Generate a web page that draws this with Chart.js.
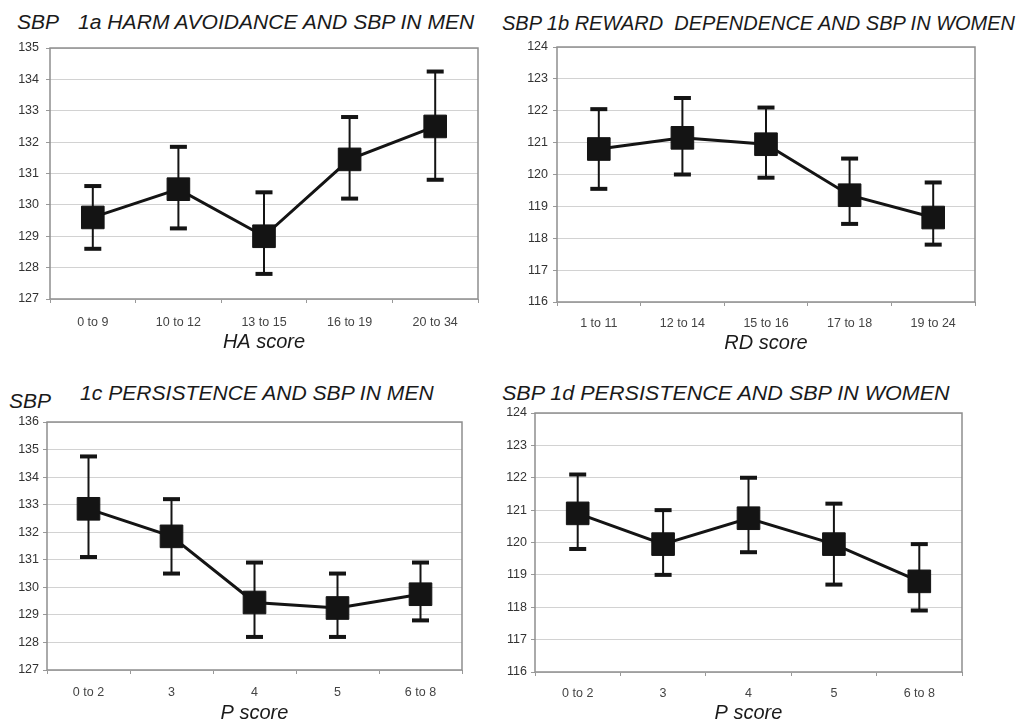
<!DOCTYPE html>
<html>
<head>
<meta charset="utf-8">
<script src="https://cdn.jsdelivr.net/npm/chart.js@4.4.0/dist/chart.umd.min.js"></script>
<style>
  html, body { margin: 0; padding: 0; background: #fff; }
  body { width: 1033px; height: 722px; overflow: hidden; position: relative; }
  .box { position: absolute; }
  .ttl {
    position: absolute; white-space: pre; font: italic 20px "Liberation Sans", Arial, sans-serif;
    line-height: 20px; color: #1a1a1a; transform-origin: 0 50%;
  }
</style>
</head>
<body>

<div class="ttl" style="left:17px;top:12px;transform:scaleX(1.05)">SBP</div>
<div class="ttl" style="left:78px;top:12px;transform:scaleX(1.055)">1a HARM AVOIDANCE AND SBP IN MEN</div>
<div class="ttl" style="left:502px;top:13px">SBP 1b REWARD  DEPENDENCE AND SBP IN WOMEN</div>
<div class="ttl" style="left:9px;top:391px;transform:scaleX(1.05)">SBP</div>
<div class="ttl" style="left:80px;top:383px;transform:scaleX(1.055)">1c PERSISTENCE AND SBP IN MEN</div>
<div class="ttl" style="left:502px;top:383px;transform:scaleX(1.077)">SBP 1d PERSISTENCE AND SBP IN WOMEN</div>

<div class="box" style="left:0px;top:0px"><canvas id="ha" width="516" height="360"></canvas></div>
<div class="box" style="left:516px;top:0px"><canvas id="rd" width="517" height="360"></canvas></div>
<div class="box" style="left:0px;top:360px"><canvas id="pm" width="516" height="380"></canvas></div>
<div class="box" style="left:490px;top:360px"><canvas id="pw" width="543" height="380"></canvas></div>

<script>
// 1a harm avoidance, men
const haLabels = ['0 to 9', '10 to 12', '13 to 15', '16 to 19', '20 to 34'];
const haMean = [129.6, 130.5, 129.0, 131.45, 132.5];
const haHigh = [130.6, 131.85, 130.4, 132.8, 134.25];
const haLow = [128.6, 129.25, 127.8, 130.2, 130.8];

// 1b reward dependence, women
const rdLabels = ['1 to 11', '12 to 14', '15 to 16', '17 to 18', '19 to 24'];
const rdMean = [120.8, 121.15, 120.95, 119.35, 118.65];
const rdHigh = [122.05, 122.4, 122.1, 120.5, 119.75];
const rdLow = [119.55, 120.0, 119.9, 118.45, 117.8];

// 1c persistence, men
const pmLabels = ['0 to 2', '3', '4', '5', '6 to 8'];
const pmMean = [132.85, 131.85, 129.45, 129.25, 129.75];
const pmHigh = [134.75, 133.2, 130.9, 130.5, 130.9];
const pmLow = [131.1, 130.5, 128.2, 128.2, 128.8];

// 1d persistence, women
const pwLabels = ['0 to 2', '3', '4', '5', '6 to 8'];
const pwMean = [120.9, 119.95, 120.75, 119.95, 118.8];
const pwHigh = [122.1, 121.0, 122.0, 121.2, 119.95];
const pwLow = [119.8, 119.0, 119.7, 118.7, 117.9];

const ink = '#141414';

// grey frame round the plot area
const framePlugin = {
  id: 'frame',
  beforeDatasetsDraw(chart) {
    const a = chart.chartArea, ctx = chart.ctx;
    ctx.save();
    ctx.strokeStyle = '#8e8e8e';
    ctx.lineWidth = 1.5;
    ctx.strokeRect(a.left, a.top, a.right - a.left, a.bottom - a.top);
    ctx.restore();
  }
};

// error bars, drawn under the squares
const errorBars = {
  id: 'errorBars',
  beforeDatasetsDraw(chart, args, opts) {
    const ctx = chart.ctx, y = chart.scales.y;
    const pts = chart.getDatasetMeta(0).data;
    ctx.save();
    ctx.strokeStyle = ink;
    ctx.fillStyle = ink;
    ctx.lineWidth = 2;
    pts.forEach((p, i) => {
      const yh = y.getPixelForValue(opts.high[i]);
      const yl = y.getPixelForValue(opts.low[i]);
      ctx.beginPath();
      ctx.moveTo(p.x, yh);
      ctx.lineTo(p.x, yl);
      ctx.stroke();
      ctx.fillRect(p.x - 8.5, yh - 2, 17, 4);
      ctx.fillRect(p.x - 8.5, yl - 2, 17, 4);
    });
    ctx.restore();
  }
};

function makeChart(id, labels, mean, low, high, yMin, yMax, xTitle, lay) {
  return new Chart(document.getElementById(id), {
    type: 'line',
    data: {
      labels: labels,
      datasets: [{
        data: mean,
        borderColor: ink,
        borderWidth: 3,
        backgroundColor: ink,
        pointStyle: 'rect',
        pointRadius: 16,
        pointBorderWidth: 1,
        pointBorderColor: ink,
        pointBackgroundColor: ink,
        tension: 0
      }]
    },
    options: {
      responsive: false,
      animation: false,
      layout: { padding: lay.pad },
      plugins: {
        legend: { display: false },
        tooltip: { enabled: false },
        errorBars: { low: low, high: high }
      },
      scales: {
        x: {
          offset: true,
          grid: { display: true, drawOnChartArea: false, offset: true, tickLength: 4, color: '#999', tickWidth: 1 },
          border: { display: false },
          ticks: { color: '#444', padding: lay.xPad, font: { family: 'Liberation Sans', size: 12.5 } },
          title: {
            display: true, text: xTitle, color: '#1a1a1a', padding: { top: 0, bottom: 0 },
            font: { family: 'Liberation Sans', size: 20, style: 'italic' }
          },
          afterFit(s) { s.height = lay.xHeight; }
        },
        y: {
          min: yMin,
          max: yMax,
          ticks: { stepSize: 1, color: '#333', padding: lay.yPad, font: { family: 'Liberation Sans', size: 12.5 } },
          grid: { color: '#d2d2d2', lineWidth: 1, tickLength: 4, tickColor: '#999' },
          border: { display: false },
          afterFit(s) { s.width = lay.yWidth; }
        }
      }
    },
    plugins: [framePlugin, errorBars]
  });
}

makeChart('ha', haLabels, haMean, haLow, haHigh, 127, 135, 'HA score',
  { pad: { left: 0, top: 48, right: 38, bottom: 6 }, yWidth: 50, xHeight: 55, xPad: 12, yPad: 7 });
makeChart('rd', rdLabels, rdMean, rdLow, rdHigh, 116, 124, 'RD score',
  { pad: { left: 0, top: 47, right: 58, bottom: 5 }, yWidth: 41, xHeight: 53, xPad: 10, yPad: 5 });
makeChart('pm', pmLabels, pmMean, pmLow, pmHigh, 127, 136, 'P score',
  { pad: { left: 0, top: 62, right: 54, bottom: 15 }, yWidth: 47, xHeight: 55, xPad: 11, yPad: 4 });
makeChart('pw', pwLabels, pwMean, pwLow, pwHigh, 116, 124, 'P score',
  { pad: { left: 0, top: 53, right: 71, bottom: 15 }, yWidth: 45, xHeight: 53, xPad: 10, yPad: 4 });
</script>
</body>
</html>
